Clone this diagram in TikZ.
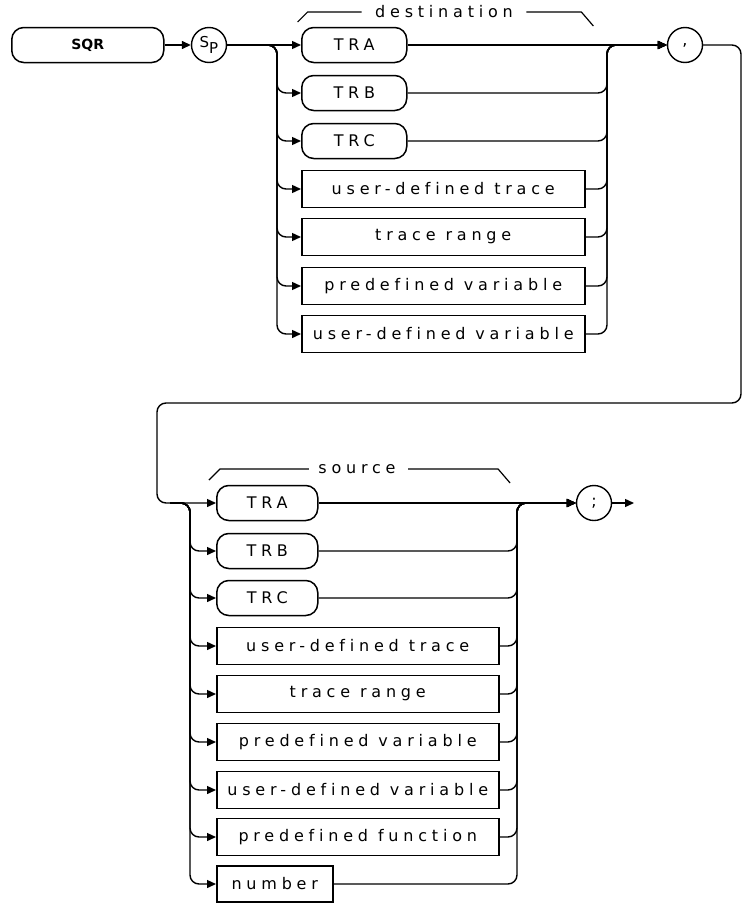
\documentclass[tikz,border=0pt]{standalone}
\usepackage{fontspec}
\newfontfamily\plotfont[LetterSpace=30,Ligatures=NoCommon]{DejaVu Sans}
\newfontfamily\keyfont{DejaVu Sans}
\usetikzlibrary{arrows.meta}

\begin{document}
\begin{tikzpicture}[x=1pt,y=-1pt,>={Triangle[length=9pt,width=8pt]},
  every node/.style={font=\plotfont\fontsize{16}{19}\selectfont},
  line/.style={line width=1.4pt,rounded corners=9pt},
  bracket/.style={line width=1.2pt},
  kbox/.style={draw,line width=1.5pt,inner sep=0pt,anchor=west},
  circ/.style={draw,line width=1.4pt,circle,inner sep=0pt,minimum size=35pt}]
  \useasboundingbox (0,0) rectangle (743,905);
  \node[kbox,rounded corners=12pt,minimum width=152,minimum height=35,
    font=\keyfont\bfseries\fontsize{14}{17}\selectfont] (sqr) at (11,45) {SQR};
  \node[circ,font=\plotfont\fontsize{15}{18}\selectfont] (sp) at (209,45) {S\raisebox{-.7ex}{P}};
  \node[circ] (comma) at (685,45) {,};
  \node[circ] (semi) at (594,503) {;};
  \coordinate (dbus) at (277,45);
  \coordinate (dcol) at (607,45);
  \coordinate (sfork) at (170,503);
  \coordinate (sbus) at (190,503);
  \coordinate (scol) at (517,503);
  \coordinate (loopr) at (741,403);
  \coordinate (loopl) at (157,403);
  \coordinate (send) at (634,503);
  \draw[line,->] (sqr.east) -- (sp.west);
  % destination
  \node (dlabel) at (444,12) {destination};
  \draw[bracket] ([xshift=-10pt]dlabel.west) -- ++(-54,0) -- ++(-10,10);
  \draw[bracket] ([xshift=10pt]dlabel.east) -- ++(55,0) -- ++(12,14);
  \foreach \ypos/\boxw/\boxh/\rc/\boxtext[count=\nn] in {%
      45/105/35/12/TRA,
      93/105/35/12/TRB,
      141/105/35/12/TRC,
      189/283/37/0/{user-defined trace},
      237/283/37/0/{trace range},
      286/283/37/0/{predefined variable},
      334/283/37/0/{user-defined variable}%
  }{%
      \node[kbox,minimum width=\boxw,minimum height=\boxh,rounded corners=\rc] (dst-\nn) at (301,\ypos) {\boxtext};
      \ifnum\nn=1
          \draw[line,->] (sp.east) -- (dst-\nn.west);
          \draw[line,->] (dst-\nn.east) -- (comma.west);
      \else
          \draw[line,->] (sp.east) -| (dbus |- dst-\nn.west) -- (dst-\nn.west);
          \draw[line,->] (dst-\nn.east) -| (dcol) -- (comma.west);
      \fi
  }
  % source
  \node (slabel) at (357,469) {source};
  \draw[bracket] ([xshift=-6pt]slabel.west) -- ++(-89,0) -- ++(-11,11);
  \draw[bracket] ([xshift=9pt]slabel.east) -- ++(90,0) -- ++(12,14);
  \foreach \ypos/\boxw/\boxh/\rc/\boxtext[count=\nn] in {%
      503/101/35/12/TRA,
      551/101/35/12/TRB,
      598/101/35/12/TRC,
      646/282/37/0/{user-defined trace},
      694/282/37/0/{trace range},
      742/282/37/0/{predefined variable},
      790/282/37/0/{user-defined variable},
      837/282/37/0/{predefined function},
      884/116/36/0/number%
  }{%
      \node[kbox,minimum width=\boxw,minimum height=\boxh,rounded corners=\rc] (src-\nn) at (216,\ypos) {\boxtext};
      \ifnum\nn=1
          \draw[line,->] (src-\nn.east) -- (semi.west);
      \else
          \draw[line,->] (sfork) -| (sbus |- src-\nn.west) -- (src-\nn.west);
          \draw[line,->] (src-\nn.east) -| (scol) -- (semi.west);
      \fi
  }
  \draw[line,->] (comma.east) -| (loopr) -- (loopl) |- (src-1.west);
  \draw[line,->] (semi.east) -- (send);
\end{tikzpicture}
\end{document}
